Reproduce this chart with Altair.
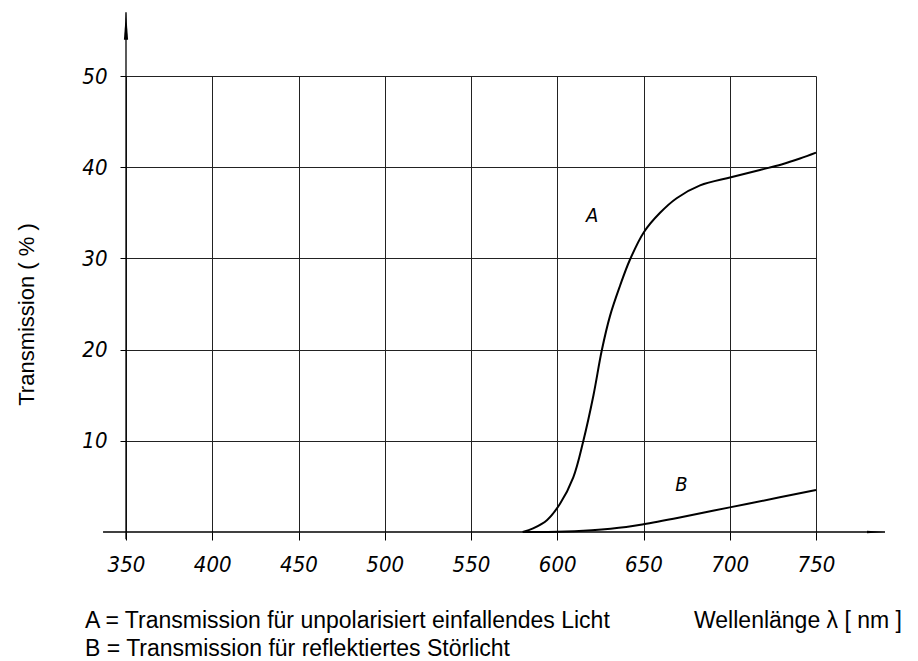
import altair as alt
import pandas as pd

# Curve A: transmission for unpolarised incident light
a_wl = [580, 586, 594, 601.6, 609.3, 615, 621, 625.8, 630.6, 636.4, 642, 650.3,
        659.6, 669.2, 682.8, 700.7, 717.5, 730, 740.7, 750]
a_tr = [0, 0.4, 1.3, 3.1, 6.0, 9.9, 15.0, 19.9, 23.7, 27.0, 29.8, 32.9,
        35.0, 36.6, 38.0, 38.9, 39.7, 40.3, 40.95, 41.6]

# Curve B: transmission for reflected stray light
b_wl = [580, 600, 620, 640, 650, 671, 700, 729, 750]
b_tr = [0, 0.02, 0.2, 0.55, 0.85, 1.6, 2.7, 3.8, 4.6]

x_ticks = [350, 400, 450, 500, 550, 600, 650, 700, 750]
y_ticks = [10, 20, 30, 40, 50]

curve_labels = ["A", "B"]
curve_label_wl = [620.3, 672]
curve_label_tr = [34.7, 5.1]

y_title = "Transmission ( % )"
x_title = "Wellenlänge λ [ nm ]"
footnotes = ["A = Transmission für unpolarisiert einfallendes Licht",
             "B = Transmission für reflektiertes Störlicht"]

TICK_FONT = "Liberation Sans Narrow, DejaVu Sans Condensed, Liberation Sans"
TEXT_FONT = "Liberation Sans, Arial, sans-serif"

curves = pd.DataFrame({
    "wl": a_wl + b_wl,
    "tr": a_tr + b_tr,
    "curve": ["A"] * len(a_wl) + ["B"] * len(b_wl),
})

xs = alt.Scale(domain=[350, 750], nice=False, zero=False)
ys = alt.Scale(domain=[0, 50], nice=False, zero=False)

x_axis = alt.Axis(values=x_ticks, grid=True, domain=False, title=None,
                  tickSize=8, tickColor="black", tickWidth=1,
                  labelFont=TICK_FONT, labelFontStyle="italic", labelFontSize=22,
                  labelColor="black", labelPadding=14, labelFlush=False,
                  gridColor="#222", gridWidth=1, gridOpacity=1)
y_axis = alt.Axis(values=y_ticks, grid=True, domain=False, title=y_title,
                  tickSize=6, tickColor="black", tickWidth=1,
                  labelFont=TICK_FONT, labelFontStyle="italic", labelFontSize=22,
                  labelColor="black", labelPadding=13, labelFlush=False,
                  gridColor="#222", gridWidth=1, gridOpacity=1,
                  titleFont=TEXT_FONT, titleFontSize=22, titleFontWeight="normal",
                  titleColor="black", titleX=-100, titleY=238,
                  titleAlign="center", titleBaseline="middle", titleAngle=270)

X = alt.X("wl:Q", scale=xs, axis=x_axis)
Y = alt.Y("tr:Q", scale=ys, axis=y_axis)

lines = alt.Chart(curves).mark_line(
    color="black", strokeWidth=2, interpolate="catmull-rom"
).encode(x=X, y=Y, detail="curve:N")

# axis lines with arrows (same field names so the axes are shared)
xaxis_df = pd.DataFrame({"wl": [336.7], "wl2": [790], "tr": [0]})
yaxis_df = pd.DataFrame({"wl": [350], "tr": [-0.8], "tr2": [57]})
x_axis_line = alt.Chart(xaxis_df).mark_rule(color="black", strokeWidth=1.3).encode(
    x=X, x2="wl2:Q", y=Y)
y_axis_line = alt.Chart(yaxis_df).mark_rule(color="black", strokeWidth=1.3).encode(
    x=X, y=Y, y2="tr2:Q")

arrow_up = alt.Chart(pd.DataFrame({"wl": [350], "tr": [55.5]})).mark_point(
    shape="M0,-1L0.15,1L-0.15,1Z", size=784, filled=True, color="black", opacity=1
).encode(x=X, y=Y)
arrow_right = alt.Chart(pd.DataFrame({"wl": [784.8], "tr": [0]})).mark_point(
    shape="M1,0L-1,-0.14L-1,0.14Z", size=324, filled=True, color="black", opacity=1
).encode(x=X, y=Y)

labels_df = pd.DataFrame({"t": curve_labels, "wl": curve_label_wl, "tr": curve_label_tr})
curve_text = alt.Chart(labels_df).mark_text(
    font=TICK_FONT, fontStyle="italic", fontSize=20, color="black",
    align="center", baseline="middle"
).encode(x=X, y=Y, text="t:N")

foot1 = alt.Chart(pd.DataFrame({"t": [footnotes[0]]})).mark_text(
    font=TEXT_FONT, fontSize=23, color="black", align="left", baseline="alphabetic"
).encode(x=alt.value(-41), y=alt.value(552), text="t:N")
foot2 = alt.Chart(pd.DataFrame({"t": [footnotes[1]]})).mark_text(
    font=TEXT_FONT, fontSize=23, color="black", align="left", baseline="alphabetic"
).encode(x=alt.value(-41), y=alt.value(580), text="t:N")
xlab = alt.Chart(pd.DataFrame({"t": [x_title]})).mark_text(
    font=TEXT_FONT, fontSize=23, color="black", align="right", baseline="alphabetic"
).encode(x=alt.value(776), y=alt.value(552), text="t:N")

chart = alt.layer(
    lines, x_axis_line, y_axis_line, arrow_up, arrow_right, curve_text,
    foot1, foot2, xlab
).properties(
    width=690, height=456,
    autosize=alt.AutoSizeParams(type="none"),
    padding={"left": 118, "top": 68, "right": 90, "bottom": 128},
    background="white",
).configure_view(stroke=None)

chart.save("out.html", embed_options={"renderer": "svg", "actions": False})
